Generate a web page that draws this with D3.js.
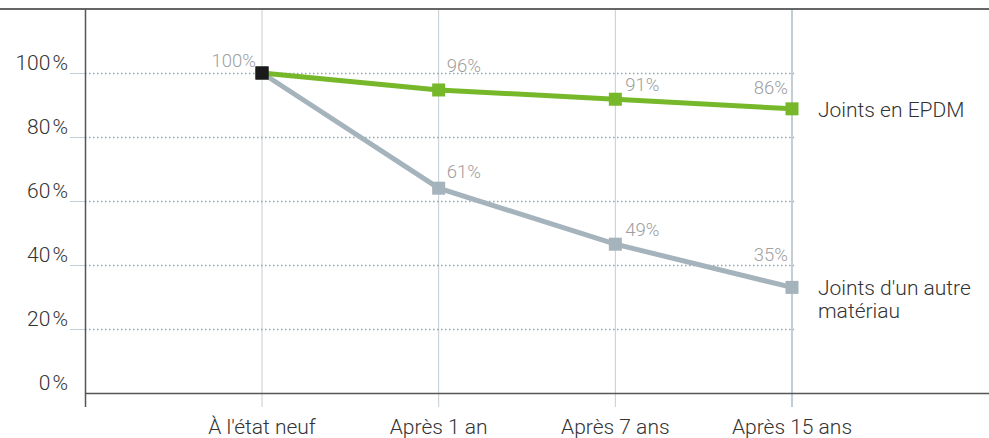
<!DOCTYPE html>
<html>
<head>
<meta charset="utf-8">
<script src="https://cdn.jsdelivr.net/npm/d3@7"></script>
<style>
  body { margin: 0; background: #fff; }
  svg { font-family: Roboto, "Liberation Sans", sans-serif; font-weight: 300; }
</style>
</head>
<body>
<div id="chart"></div>
<script>
// data
const categories = ["À l'état neuf", "Après 1 an", "Après 7 ans", "Après 15 ans"];
const epdmValues = [100, 94.7, 91.8, 88.8];
const otherValues = [100, 64, 46.5, 33];
const epdmLabels = ["100%", "96%", "91%", "86%"];
const otherLabels = [null, "61%", "49%", "35%"];
const yTicks = [0, 20, 40, 60, 80, 100];
const seriesNames = ["Joints en EPDM", ["Joints d'un autre", "matériau"]];

// placement of value labels relative to their point (layout only)
const epdmLabelOffsets = [[-6, -6, "end"], [8, -18, "start"], [10, -8, "start"], [-4, -15, "end"]];
const otherLabelOffsets = [null, [8, -10, "start"], [10, -8, "start"], [-4, -26, "end"]];

const width = 989, height = 438;
const plotLeft = 85, plotTop = 9, plotBottom = 393, tickEnd = 407;

const svg = d3.select("#chart").append("svg")
  .attr("width", width)
  .attr("height", height);

const x = d3.scalePoint()
  .domain(categories)
  .range([262, 792]);

const y = d3.scaleLinear()
  .domain([0, 100])
  .range([plotBottom, 73]);

const green = "#76b82a";
const grey = "#a5b3bc";
const gridColor = "#c3cdd4";

// vertical category lines
svg.append("g")
  .selectAll("line")
  .data(categories)
  .join("line")
    .attr("x1", d => x(d))
    .attr("x2", d => x(d))
    .attr("y1", plotTop)
    .attr("y2", tickEnd)
    .attr("stroke", gridColor)
    .attr("stroke-width", (d, i) => i == categories.length - 1 ? 2 : 1);

// horizontal dotted grid + short solid ticks
const grid = svg.append("g");
grid.selectAll("line.dot")
  .data(yTicks.filter(d => d > 0))
  .join("line")
    .attr("class", "dot")
    .attr("x1", plotLeft)
    .attr("x2", 794)
    .attr("y1", d => Math.round(y(d)) + 0.5)
    .attr("y2", d => Math.round(y(d)) + 0.5)
    .attr("stroke", "#93a3ae")
    .attr("stroke-width", 1.5)
    .attr("stroke-dasharray", "1.5,2.5");
grid.selectAll("line.tick")
  .data(yTicks.filter(d => d > 0))
  .join("line")
    .attr("class", "tick")
    .attr("x1", 70)
    .attr("x2", plotLeft)
    .attr("y1", d => Math.round(y(d)) + 0.5)
    .attr("y2", d => Math.round(y(d)) + 0.5)
    .attr("stroke", gridColor)
    .attr("stroke-width", 1);

// y labels
svg.append("g")
  .selectAll("text")
  .data(yTicks)
  .join("text")
    .attr("x", 68)
    .attr("y", d => y(d) - 3)
    .attr("text-anchor", "end")
    .attr("font-size", 21)
    .attr("fill", "#333")
    .text(d => d + "\u200a%");

// frame lines
svg.append("line")
  .attr("x1", 0).attr("x2", width)
  .attr("y1", plotTop).attr("y2", plotTop)
  .attr("stroke", "#666").attr("stroke-width", 2);
svg.append("line")
  .attr("x1", plotLeft + 0.5).attr("x2", plotLeft + 0.5)
  .attr("y1", plotTop).attr("y2", tickEnd)
  .attr("stroke", "#555").attr("stroke-width", 1.5);
svg.append("line")
  .attr("x1", plotLeft).attr("x2", width)
  .attr("y1", plotBottom + 0.5).attr("y2", plotBottom + 0.5)
  .attr("stroke", "#555").attr("stroke-width", 1.5);

// x labels
svg.append("g")
  .selectAll("text")
  .data(categories)
  .join("text")
    .attr("x", d => x(d))
    .attr("y", 434)
    .attr("text-anchor", "middle")
    .attr("font-size", 21)
    .attr("fill", "#333")
    .text(d => d);

// lines
const line = d3.line()
  .x((d, i) => x(categories[i]))
  .y(d => y(d));

svg.append("path")
  .datum(otherValues)
  .attr("d", line)
  .attr("fill", "none")
  .attr("stroke", grey)
  .attr("stroke-width", 5);

svg.append("path")
  .datum(epdmValues)
  .attr("d", line)
  .attr("fill", "none")
  .attr("stroke", green)
  .attr("stroke-width", 5);

// markers
const size = 13;
function markers(values, color) {
  svg.append("g")
    .selectAll("rect")
    .data(values)
    .join("rect")
      .attr("x", (d, i) => x(categories[i]) - size / 2)
      .attr("y", d => y(d) - size / 2)
      .attr("width", size)
      .attr("height", size)
      .attr("fill", (d, i) => i == 0 ? "#1a1a1a" : color);
}
markers(otherValues, grey);
markers(epdmValues, green);

// value labels
function valueLabels(values, labels, offsets) {
  svg.append("g")
    .selectAll("text")
    .data(values.map((d, i) => ({ v: d, i: i })).filter(d => labels[d.i] != null))
    .join("text")
      .attr("x", d => x(categories[d.i]) + offsets[d.i][0])
      .attr("y", d => y(d.v) + offsets[d.i][1])
      .attr("text-anchor", d => offsets[d.i][2])
      .attr("font-size", 18.5)
      .attr("fill", "#a0a0a0")
      .text(d => labels[d.i]);
}
valueLabels(epdmValues, epdmLabels, epdmLabelOffsets);
valueLabels(otherValues, otherLabels, otherLabelOffsets);

// series names at line ends
svg.append("text")
  .attr("x", 818)
  .attr("y", y(epdmValues[3]) + 8)
  .attr("font-size", 21)
  .attr("fill", "#333")
  .text(seriesNames[0]);

svg.append("text")
  .attr("x", 818)
  .attr("y", y(otherValues[3]) + 8)
  .attr("font-size", 21)
  .attr("fill", "#333")
  .selectAll("tspan")
  .data(seriesNames[1])
  .join("tspan")
    .attr("x", 818)
    .attr("dy", (d, i) => i == 0 ? 0 : 23)
    .text(d => d);
</script>
</body>
</html>
